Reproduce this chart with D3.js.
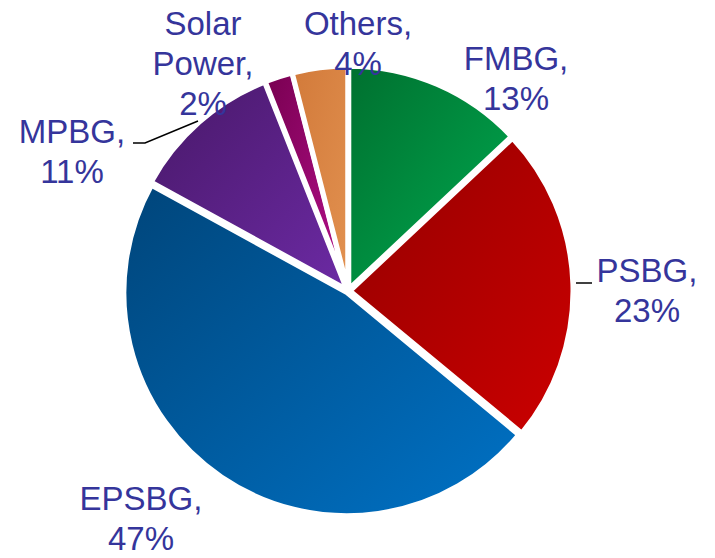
<!DOCTYPE html>
<html>
<head>
<meta charset="utf-8">
<script src="https://cdn.jsdelivr.net/npm/d3@7"></script>
<style>
  html, body { margin: 0; padding: 0; background: #fff; }
  svg { display: block; }
</style>
</head>
<body>
<script>
// ---- data ----
const categories = ["FMBG", "PSBG", "EPSBG", "MPBG", "Solar Power", "Others"];
const values = [13, 23, 47, 11, 2, 4];
const labelLines = [["FMBG,"], ["PSBG,"], ["EPSBG,"], ["MPBG,"], ["Solar", "Power,"], ["Others,"]];

// ---- styling / layout ----
const W = 715, H = 558;
const cx = 348, cy = 291, R = 223;
const explode = 2;
const gradColors = [
  ["#00702f", "#00aa50"],
  ["#930000", "#cc0000"],
  ["#00457a", "#0072c6"],
  ["#481868", "#6c2aa4"],
  ["#780050", "#b5108c"],
  ["#d27a3a", "#e29150"]
];
// label anchor (center x, first baseline y)
const labelPos = [
  [516, 70], [647, 282], [141, 510], [72, 143], [203, 35], [358, 35]
];
const lineH = 40;
const textColor = "#35359b";

const svg = d3.select("body").append("svg").attr("width", W).attr("height", H);
const defs = svg.append("defs");
gradColors.forEach((c, i) => {
  const g = defs.append("linearGradient").attr("id", "g" + i)
    .attr("x1", "0%").attr("y1", "0%").attr("x2", "100%").attr("y2", "100%");
  g.append("stop").attr("offset", "0%").attr("stop-color", c[0]);
  g.append("stop").attr("offset", "100%").attr("stop-color", c[1]);
});

const pie = d3.pie().sort(null).value(d => d)(values);
const arc = d3.arc().innerRadius(0).outerRadius(R);

const gPie = svg.append("g").attr("transform", `translate(${cx},${cy})`);
gPie.selectAll("path").data(pie).join("path")
  .attr("d", arc)
  .attr("transform", d => {
    const a = (d.startAngle + d.endAngle) / 2;
    return `translate(${explode * Math.sin(a)},${-explode * Math.cos(a)})`;
  })
  .attr("fill", (d, i) => `url(#g${i})`)
  .attr("stroke", "#fff")
  .attr("stroke-width", 5)
  .attr("stroke-linejoin", "round");

// leader lines
const leaders = [
  { i: 3, pts: [[133, 143], [145, 143], [198, 121]] },
  { i: 1, pts: [[576, 283], [592, 283]] }
];
svg.selectAll("path.leader").data(leaders).join("path")
  .attr("class", "leader")
  .attr("d", d => d3.line()(d.pts))
  .attr("fill", "none").attr("stroke", "#000").attr("stroke-width", 1.5);

// labels
const gLab = svg.append("g");
pie.forEach((d, i) => {
  const lines = labelLines[i].concat([values[i] + "%"]);
  const t = gLab.append("text")
    .attr("x", labelPos[i][0]).attr("y", labelPos[i][1])
    .attr("text-anchor", "middle")
    .attr("font-family", "'Liberation Sans', Arial, sans-serif")
    .attr("font-size", 33)
    .attr("fill", textColor);
  lines.forEach((l, k) => {
    t.append("tspan").attr("x", labelPos[i][0]).attr("dy", k === 0 ? 0 : lineH).text(l);
  });
});
</script>
</body>
</html>
